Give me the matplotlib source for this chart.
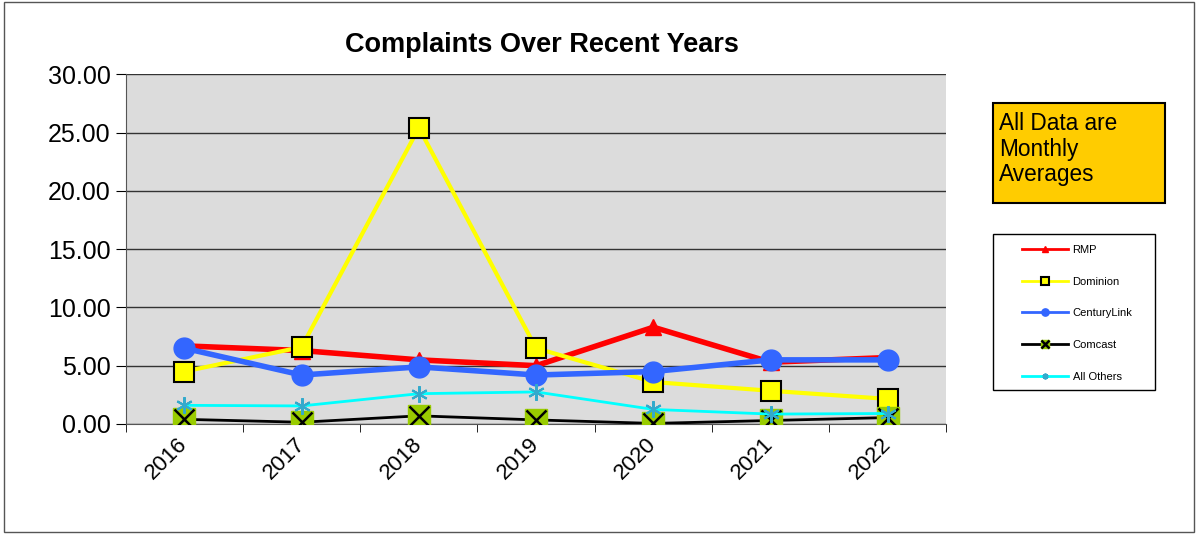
import numpy as np
import matplotlib
matplotlib.use("Agg")
import matplotlib.pyplot as plt
from matplotlib.patches import Rectangle

years = ["2016", "2017", "2018", "2019", "2020", "2021", "2022"]
rmp = [6.7, 6.3, 5.5, 5.0, 8.3, 5.3, 5.7]
dominion = [4.5, 6.6, 25.4, 6.5, 3.6, 2.85, 2.15]
centurylink = [6.5, 4.2, 4.9, 4.2, 4.5, 5.5, 5.5]
comcast = [0.4, 0.15, 0.7, 0.35, 0.05, 0.3, 0.55]
all_others = [1.6, 1.55, 2.6, 2.75, 1.25, 0.85, 0.9]

plt.rcParams['font.family'] = ['Liberation Sans', 'DejaVu Sans']

W, H = 1198, 534
fig = plt.figure(figsize=(W / 100, H / 100), dpi=100)
fig.patches.append(Rectangle((0.003, 0.003), 0.994, 0.994, transform=fig.transFigure,
                             fill=False, edgecolor='#555555', linewidth=1))
ax = fig.add_axes([0.105, 0.206, 0.685, 0.655])
ax.set_facecolor('#DCDCDC')

x = np.arange(len(years))

h_rmp, = ax.plot(x, rmp, color='#FF0000', lw=4, marker='^', ms=12,
                 mfc='#FF0000', mec='#FF0000', zorder=3)
h_dom, = ax.plot(x, dominion, color='#FFFF00', lw=3, marker='s', ms=15,
                 mfc='#FFFF00', mec='black', mew=1.5, zorder=4)
h_cen, = ax.plot(x, centurylink, color='#3366FF', lw=4, marker='o', ms=15,
                 mfc='#3366FF', mec='#3366FF', zorder=5)
h_com, = ax.plot(x, comcast, color='black', lw=2, zorder=6)
h_coms, = ax.plot(x, comcast, ls='none', marker='s', ms=16, mfc='#99CC00',
                  mec='#99CC00', zorder=6)
h_comx, = ax.plot(x, comcast, ls='none', marker='x', ms=15, mec='black',
                  mew=1.8, zorder=6)
h_oth, = ax.plot(x, all_others, color='#00FFFF', lw=2, zorder=7)
h_oths, = ax.plot(x, all_others, ls='none', marker=(6, 2, 0), ms=12,
                  mec='#33AACC', mew=1.5, zorder=7)

ax.set_xlim(-0.5, len(years) - 0.5)
ax.set_ylim(0, 30)
ax.set_yticks(np.arange(0, 31, 5))
ax.set_yticklabels([f"{v:.2f}" for v in np.arange(0, 31, 5)], fontsize=18)
ax.yaxis.grid(True, color='#333333', lw=1)
ax.set_axisbelow(True)
ax.set_xticks(x)
ax.set_xticklabels(years, rotation=45, fontsize=16, ha='right', va='center',
                   rotation_mode='anchor')
ax.tick_params(axis='x', which='major', length=0, pad=12)
ax.set_xticks(np.arange(-0.5, len(years)), minor=True)
ax.tick_params(axis='x', which='minor', length=6, direction='out')
ax.tick_params(axis='y', length=7, direction='out', pad=4)
for s in ['top', 'right']:
    ax.spines[s].set_visible(False)
ax.spines['left'].set_color('#555555')
ax.spines['bottom'].set_color('#555555')

fig.text(0.452, 0.915, "Complaints Over Recent Years", ha='center', va='center',
         fontsize=19.5, fontweight='bold')

# note box
fig.patches.append(Rectangle((993 / W, 1 - 203 / H), 172 / W, 100 / H,
                             transform=fig.transFigure, facecolor='#FFCC00',
                             edgecolor='black', lw=1.5))
fig.text(999 / W, 1 - 112 / H, "All Data are\nMonthly\nAverages", ha='left',
         va='top', fontsize=16.3, linespacing=1.15)

# legend box
fig.patches.append(Rectangle((993 / W, 1 - 390 / H), 162 / W, 156 / H,
                             transform=fig.transFigure, fill=False,
                             edgecolor='black', lw=1))
leg = fig.legend([h_rmp, h_dom, h_cen, (h_com, h_coms, h_comx), (h_oth, h_oths)],
                 ["RMP", "Dominion", "CenturyLink", "Comcast", "All Others"],
                 loc='upper left', bbox_to_anchor=(1022 / W, 1 - 245 / H),
                 fontsize=8, frameon=False, labelspacing=1.95, handlelength=4.1,
                 handletextpad=0.45, borderpad=0, borderaxespad=0,
                 markerscale=0.35)
for line in leg.get_lines():
    line.set_linewidth(2)

fig.savefig("out.png", dpi=100)
